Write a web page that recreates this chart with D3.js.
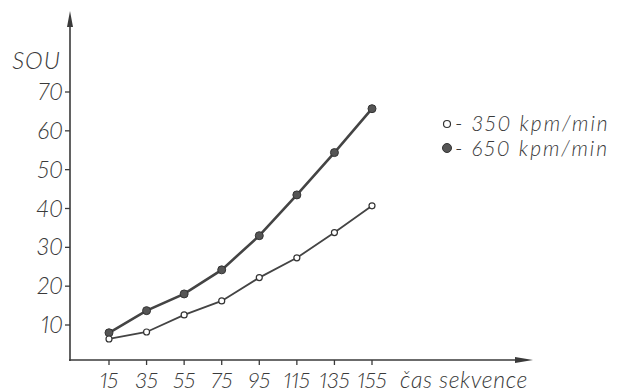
<!DOCTYPE html>
<html>
<head>
<meta charset="utf-8">
<script src="https://cdn.jsdelivr.net/npm/d3@7"></script>
<style>
  body { margin: 0; background: #fff; }
  text { font-family: Lato, "Liberation Sans", sans-serif; font-weight: 300; font-style: italic; fill: #3a3a3a;
         font-variant-numeric: proportional-nums; font-feature-settings: "pnum" 1; }
</style>
</head>
<body>
<script>
// Data
var xTicks = [15, 35, 55, 75, 95, 115, 135, 155];
var yTicks = [10, 20, 30, 40, 50, 60, 70];
var series350 = [6.4, 8.2, 12.6, 16.2, 22.2, 27.3, 33.8, 40.7];
var series650 = [8.0, 13.7, 18.0, 24.2, 33.0, 43.5, 54.4, 65.7];
var legendLabels = ["- 350 kpm/min", "- 650 kpm/min"];

(function() {
  var width = 627, height = 392;
  var ink = "#3a3a3a";

  var svg = d3.select("body").append("svg")
      .attr("width", width)
      .attr("height", height);

  // Scales
  var x = d3.scaleLinear().domain([15, 155]).range([109, 372]);
  var y = d3.scaleLinear().domain([10, 70]).range([325, 92]);
  var axisX = 70, axisY = 360;

  // Y axis with arrow
  svg.append("line")
      .attr("x1", axisX).attr("x2", axisX)
      .attr("y1", axisY + 1).attr("y2", 22)
      .attr("stroke", ink).attr("stroke-width", 1.6);
  svg.append("path")
      .attr("d", "M" + axisX + ",11 L" + (axisX - 3) + ",27 L" + (axisX + 3) + ",27 Z")
      .attr("fill", ink);

  // X axis with arrow
  svg.append("line")
      .attr("x1", axisX - 1).attr("x2", 522)
      .attr("y1", axisY).attr("y2", axisY)
      .attr("stroke", ink).attr("stroke-width", 1.6);
  svg.append("path")
      .attr("d", "M533," + axisY + " L515," + (axisY - 3) + " L515," + (axisY + 3) + " Z")
      .attr("fill", ink);

  // Y ticks + labels
  svg.selectAll(".ytick").data(yTicks).enter().append("line")
      .attr("class", "ytick")
      .attr("x1", axisX - 5).attr("x2", axisX)
      .attr("y1", function(d) { return y(d); })
      .attr("y2", function(d) { return y(d); })
      .attr("stroke", ink).attr("stroke-width", 1.3);
  svg.selectAll(".ylab").data(yTicks).enter().append("text")
      .attr("class", "ylab")
      .attr("x", axisX - 7)
      .attr("y", function(d) { return y(d) + 8; })
      .attr("text-anchor", "end")
      .style("font-size", "23px")
      .text(function(d) { return d; });
  svg.append("text")
      .attr("x", 61).attr("y", 69)
      .attr("text-anchor", "end")
      .style("font-size", "24px")
      .style("letter-spacing", "1px")
      .text("SOU");

  // X ticks + labels
  svg.selectAll(".xtick").data(xTicks).enter().append("line")
      .attr("class", "xtick")
      .attr("x1", function(d) { return x(d); })
      .attr("x2", function(d) { return x(d); })
      .attr("y1", axisY).attr("y2", axisY + 5)
      .attr("stroke", ink).attr("stroke-width", 1.3);
  svg.selectAll(".xlab").data(xTicks).enter().append("text")
      .attr("class", "xlab")
      .attr("x", function(d) { return x(d); })
      .attr("y", 388)
      .attr("text-anchor", "middle")
      .style("font-size", "22px")
      .text(function(d) { return d; });
  svg.append("text")
      .attr("x", 400).attr("y", 388)
      .style("font-size", "23px")
      .style("letter-spacing", "0.6px")
      .text("čas sekvence");

  // Lines
  var line = d3.line()
      .x(function(d, i) { return x(xTicks[i]); })
      .y(function(d) { return y(d); });

  svg.append("path").datum(series650)
      .attr("d", line).attr("fill", "none")
      .attr("stroke", "#444").attr("stroke-width", 2.6);
  svg.append("path").datum(series350)
      .attr("d", line).attr("fill", "none")
      .attr("stroke", "#444").attr("stroke-width", 1.8);

  // Markers
  svg.selectAll(".m650").data(series650).enter().append("circle")
      .attr("class", "m650")
      .attr("cx", function(d, i) { return x(xTicks[i]); })
      .attr("cy", function(d) { return y(d); })
      .attr("r", 4)
      .attr("fill", "#555").attr("stroke", "#333").attr("stroke-width", 1);
  svg.selectAll(".m350").data(series350).enter().append("circle")
      .attr("class", "m350")
      .attr("cx", function(d, i) { return x(xTicks[i]); })
      .attr("cy", function(d) { return y(d); })
      .attr("r", 3)
      .attr("fill", "#fff").attr("stroke", "#333").attr("stroke-width", 1.2);

  // Legend
  var legend = svg.append("g");
  legend.append("circle")
      .attr("cx", 447).attr("cy", 124).attr("r", 3.5)
      .attr("fill", "#fff").attr("stroke", "#333").attr("stroke-width", 1.2);
  legend.append("circle")
      .attr("cx", 447).attr("cy", 148).attr("r", 4.5)
      .attr("fill", "#555").attr("stroke", "#333");
  legend.selectAll(".leg").data(legendLabels).enter().append("text")
      .attr("class", "leg")
      .attr("x", 455)
      .attr("y", function(d, i) { return 131 + i * 25; })
      .style("font-size", "21px")
      .style("letter-spacing", "2px")
      .text(function(d) { return d; });
})();
</script>
</body>
</html>
